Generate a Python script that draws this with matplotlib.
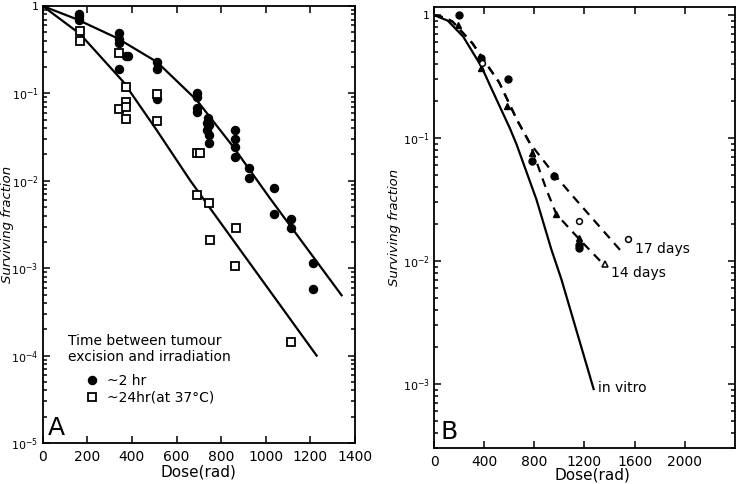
import numpy as np
import matplotlib.pyplot as plt
from matplotlib.ticker import FixedLocator, FuncFormatter, LogLocator, NullFormatter
from matplotlib.lines import Line2D

plt.rcParams['font.family'] = ['DejaVu Sans']
plt.rcParams['mathtext.default'] = 'regular'

# ---- panel A: tumour cells, ~2 hr vs ~24 hr ----
a_dose_2hr = [164, 164, 164, 343, 343, 343, 343, 373, 384, 514, 514, 514,
              690, 690, 690, 690, 742, 738, 745, 738, 745, 745,
              862, 862, 862, 862, 926, 926, 1038, 1038, 1113, 1113, 1213, 1213]
a_surv_2hr = [0.82, 0.76, 0.70, 0.49, 0.42, 0.38, 0.19, 0.27, 0.27, 0.227, 0.19, 0.086,
              0.100, 0.092, 0.068, 0.062, 0.052, 0.0455, 0.0436, 0.038, 0.0334, 0.0269,
              0.038, 0.0298, 0.0242, 0.0186, 0.0139, 0.0109, 0.0082, 0.00414, 0.0037, 0.00286,
              0.00116, 0.00058]
a_dose_24hr = [167, 167, 343, 343, 373, 373, 373, 373, 514, 514, 693, 705, 690, 747,
               750, 865, 862, 1113]
a_surv_24hr = [0.52, 0.40, 0.287, 0.066, 0.117, 0.080, 0.070, 0.051, 0.098, 0.0487,
               0.0206, 0.0206, 0.0069, 0.0056, 0.00208, 0.0029, 0.00106, 0.000143]
a_fit_2hr_dose = [0, 150, 333, 512, 690, 854, 1019, 1340]
a_fit_2hr_surv = [1.0, 0.71, 0.43, 0.229, 0.084, 0.0245, 0.0063, 4.9e-4]
a_fit_24hr_dose = [0, 167, 361, 511, 660, 757, 1228]
a_fit_24hr_surv = [1.0, 0.48, 0.136, 0.038, 0.0102, 0.0046, 1.0e-4]
a_xticks = [0, 200, 400, 600, 800, 1000, 1200, 1400]
a_yticks = [1e-5, 1e-4, 1e-3, 1e-2, 1e-1, 1]

# ---- panel B: in vitro vs 14 / 17 days ----
b_dose_fcirc = [200, 375, 590, 780, 960, 1160, 1160]
b_surv_fcirc = [1.0, 0.45, 0.30, 0.0655, 0.0494, 0.0136, 0.0128]
b_dose_ftri = [195, 375, 585, 780, 970, 1160]
b_surv_ftri = [0.83, 0.37, 0.183, 0.0755, 0.0243, 0.0155]
b_dose_ocirc = [380, 1156, 1546]
b_surv_ocirc = [0.41, 0.0211, 0.015]
b_dose_otri = [1360]
b_surv_otri = [0.0094]
b_vitro_dose = [0, 110, 233, 379, 445, 605, 658, 817, 936, 1016, 1273]
b_vitro_surv = [1.0, 0.90, 0.667, 0.38, 0.27, 0.12, 0.089, 0.0316, 0.0124, 0.0071, 9.1e-4]
b_17d_dose = [0, 94, 150, 306, 426, 519, 664, 764, 963, 1108, 1493]
b_17d_surv = [1.0, 0.95, 0.88, 0.59, 0.39, 0.284, 0.139, 0.091, 0.050, 0.0336, 0.012]
b_14d_dose = [0, 94, 150, 306, 426, 519, 664, 764, 897, 976, 1160, 1347]
b_14d_surv = [1.0, 0.95, 0.88, 0.59, 0.39, 0.284, 0.139, 0.091, 0.038, 0.024, 0.015, 0.0095]
b_xticks = [0, 400, 800, 1200, 1600, 2000]
b_yticks = [1e-3, 1e-2, 1e-1, 1]


def pow_label(v, pos):
    if abs(v - 1) < 1e-9:
        return '1'
    return r'$10^{%d}$' % int(round(np.log10(v)))


def style_axes(ax, xticks, yticks):
    ax.set_yscale('log')
    ax.xaxis.set_major_locator(FixedLocator(xticks))
    ax.yaxis.set_major_locator(FixedLocator(yticks))
    ax.yaxis.set_major_formatter(FuncFormatter(pow_label))
    ax.yaxis.set_minor_locator(LogLocator(base=10, subs=np.arange(2, 10)))
    ax.yaxis.set_minor_formatter(NullFormatter())
    ax.tick_params(which='both', direction='in', top=True, right=True,
                   width=1.1, colors='black')
    ax.tick_params(axis='x', labelsize=10, pad=5)
    ax.tick_params(axis='y', labelsize=8, pad=3)
    ax.tick_params(which='major', length=5)
    ax.tick_params(which='minor', length=3)
    for s in ax.spines.values():
        s.set_linewidth(1.3)
    ax.set_xlabel('Dose(rad)', fontsize=11)
    ax.set_ylabel('Surviving fraction', fontsize=9.5, style='italic')


fig = plt.figure(figsize=(7.4, 4.84), dpi=100)
axA = fig.add_axes([0.0577, 0.0847, 0.4220, 0.9029])
axB = fig.add_axes([0.5865, 0.0737, 0.4067, 0.9125])

# panel A
axA.plot(a_fit_2hr_dose, a_fit_2hr_surv, '-', color='black', lw=1.6)
axA.plot(a_fit_24hr_dose, a_fit_24hr_surv, '-', color='black', lw=1.6)
axA.plot(a_dose_2hr, a_surv_2hr, 'o', color='black', ms=5.8, ls='none')
axA.plot(a_dose_24hr, a_surv_24hr, 's', mfc='white', mec='black', mew=1.3, ms=5.2, ls='none')
axA.set_xlim(0, 1400)
axA.set_ylim(1e-5, 1)
style_axes(axA, a_xticks, a_yticks)
axA.xaxis.set_label_coords(0.5, -0.05)
axA.yaxis.set_label_coords(-0.092, 0.5)
axA.text(0.082, 0.25, 'Time between tumour\nexcision and irradiation',
         transform=axA.transAxes, fontsize=10, va='top', linespacing=1.2)
handles = [Line2D([], [], marker='o', color='black', ls='none', ms=5.8),
           Line2D([], [], marker='s', mfc='white', mec='black', mew=1.3, ls='none', ms=5.2)]
axA.legend(handles, ['~2 hr', '~24hr(at 37°C)'], loc='upper left',
           bbox_to_anchor=(0.105, 0.181), frameon=False, fontsize=10,
           handlelength=1.0, handletextpad=0.6, labelspacing=0.2, borderpad=0.2)
axA.text(0.015, 0.018, 'A', transform=axA.transAxes, fontsize=18)

# panel B
axB.plot(b_vitro_dose, b_vitro_surv, '-', color='black', lw=1.6)
axB.plot(b_17d_dose, b_17d_surv, '--', color='black', lw=1.6, dashes=(4, 3))
axB.plot(b_14d_dose, b_14d_surv, '--', color='black', lw=1.6, dashes=(4, 3))
axB.plot(b_dose_fcirc, b_surv_fcirc, 'o', color='black', ms=5, ls='none')
axB.plot(b_dose_ftri, b_surv_ftri, '^', color='black', ms=5, ls='none')
axB.plot(b_dose_ocirc, b_surv_ocirc, 'o', mfc='white', mec='black', mew=1.1, ms=4.2, ls='none')
axB.plot(b_dose_otri, b_surv_otri, '^', mfc='white', mec='black', mew=1.1, ms=4.2, ls='none')
axB.annotate('17 days', (b_dose_ocirc[-1], b_surv_ocirc[-1]), xytext=(5, -7),
             textcoords='offset points', fontsize=10, va='center')
axB.annotate('14 days', (b_dose_otri[0], b_surv_otri[0]), xytext=(5, -6),
             textcoords='offset points', fontsize=10, va='center')
axB.annotate('in vitro', (b_vitro_dose[-1], b_vitro_surv[-1]), xytext=(3, 1),
             textcoords='offset points', fontsize=10, va='center')
axB.set_xlim(0, 2400)
axB.set_ylim(3.0e-4, 1.17)
style_axes(axB, b_xticks, b_yticks)
axB.xaxis.set_label_coords(0.527, -0.044)
axB.yaxis.set_label_coords(-0.11, 0.5)
axB.text(0.023, 0.021, 'B', transform=axB.transAxes, fontsize=18)

fig.savefig('out.png', dpi=100)
